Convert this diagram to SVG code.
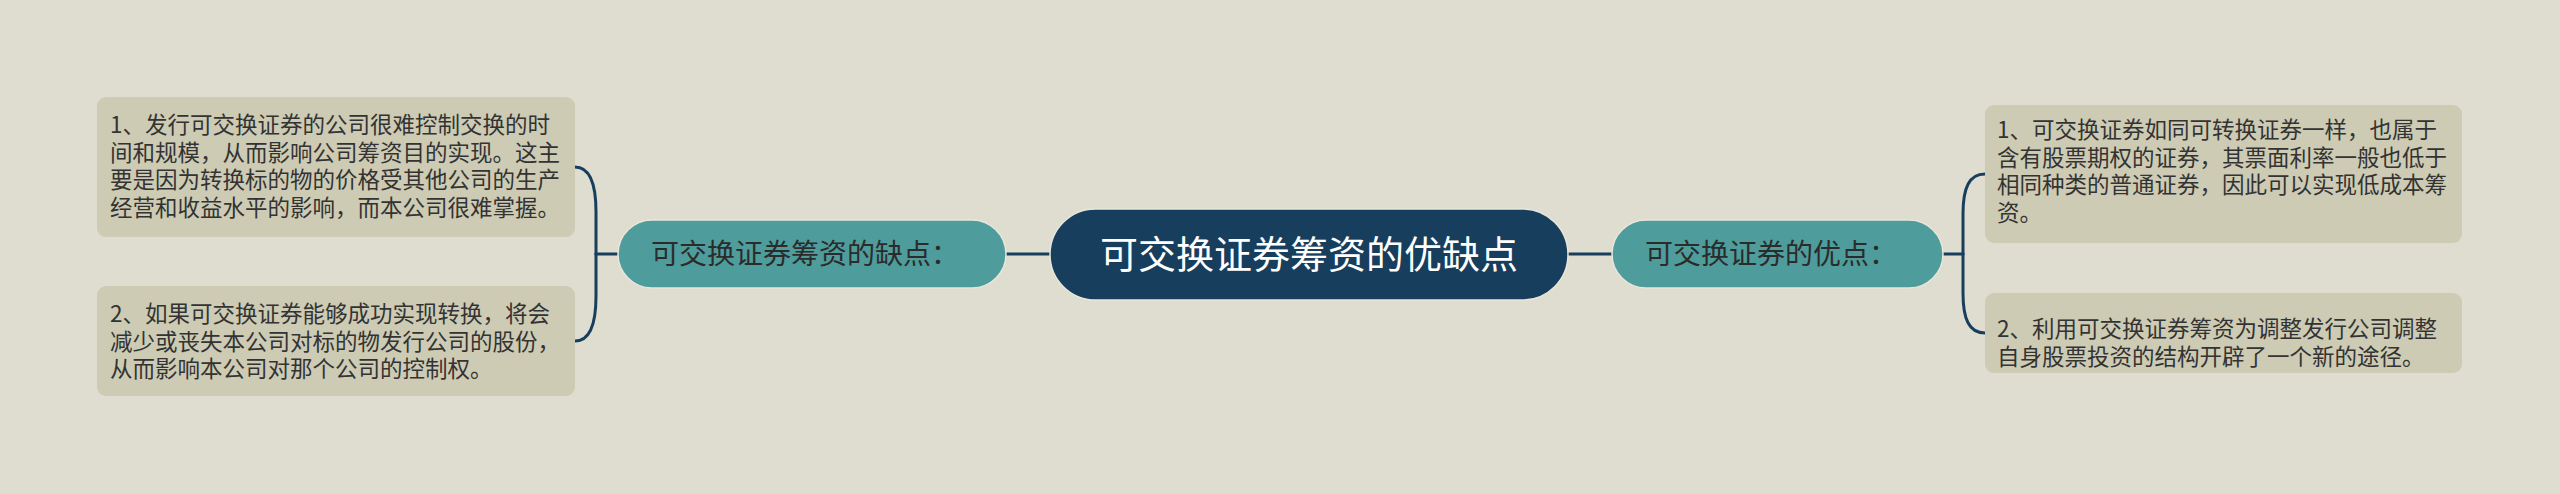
<svg xmlns="http://www.w3.org/2000/svg" width="2560" height="494" viewBox="0 0 2560 494">
<style>
.leaf rect{fill:#cdcbb3;}
.leaf text{font-family:"Noto Sans CJK SC","Noto Sans",sans-serif;font-size:22.5px;fill:#333333;}
.sub rect{fill:#4e9c9b;stroke:#e8e6da;stroke-width:1.5;}
.sub text{font-family:"Noto Sans CJK SC","Noto Sans",sans-serif;font-size:28px;fill:#2b2b2b;text-anchor:middle;}
.root rect{fill:#173e5c;stroke:#e8e6da;stroke-width:1.5;}
.root text{font-family:"Noto Sans CJK SC","Noto Sans",sans-serif;font-size:38px;fill:#ffffff;text-anchor:middle;}
.conn path{fill:none;stroke:#173e5c;stroke-width:3;stroke-linecap:round;}
</style>
<rect x="0" y="0" width="2560" height="494" fill="#dfddcf"/>
<g class="conn" id="connectors">
<path d="M1050 254 H1006"/>
<path d="M1568 254 H1612"/>
<path d="M617 254 H596"/>
<path d="M596 254 V212 C596 184 590 167 575 167"/>
<path d="M596 254 V296 C596 324 590 341 575 341"/>
<path d="M1943 254 H1963"/>
<path d="M1963 254 V214 C1963 188 1969 174 1985 174"/>
<path d="M1963 254 V293 C1963 319 1969 333 1985 333"/>
</g>
<g class="root" id="root">
<rect x="1050" y="209" width="518" height="91" rx="45.5"/>
<text x="1309" y="268">可交换证券筹资的优缺点</text>
</g>
<g class="sub" id="cons">
<rect x="618" y="220" width="388" height="68" rx="34"/>
<text x="805" y="264">可交换证券筹资的缺点：</text>
</g>
<g class="sub" id="pros">
<rect x="1612" y="220" width="331" height="68" rx="34"/>
<text x="1771" y="264">可交换证券的优点：</text>
</g>
<g class="leaf" id="cons1">
<rect x="97" y="97" width="478" height="140" rx="9"/>
<text x="110" y="133">1、发行可交换证券的公司很难控制交换的时</text>
<text x="110" y="161">间和规模，从而影响公司筹资目的实现。这主</text>
<text x="110" y="188">要是因为转换标的物的价格受其他公司的生产</text>
<text x="110" y="216">经营和收益水平的影响，而本公司很难掌握。</text>
</g>
<g class="leaf" id="cons2">
<rect x="97" y="286" width="478" height="110" rx="9"/>
<text x="110" y="322">2、如果可交换证券能够成功实现转换，将会</text>
<text x="110" y="350">减少或丧失本公司对标的物发行公司的股份，</text>
<text x="110" y="377">从而影响本公司对那个公司的控制权。</text>
</g>
<g class="leaf" id="pros1">
<rect x="1985" y="105" width="477" height="138" rx="9"/>
<text x="1997" y="138">1、可交换证券如同可转换证券一样，也属于</text>
<text x="1997" y="166">含有股票期权的证券，其票面利率一般也低于</text>
<text x="1997" y="193">相同种类的普通证券，因此可以实现低成本筹</text>
<text x="1997" y="221">资。</text>
</g>
<g class="leaf" id="pros2">
<rect x="1985" y="293" width="477" height="80" rx="9"/>
<text x="1997" y="337">2、利用可交换证券筹资为调整发行公司调整</text>
<text x="1997" y="365">自身股票投资的结构开辟了一个新的途径。</text>
</g>
</svg>
